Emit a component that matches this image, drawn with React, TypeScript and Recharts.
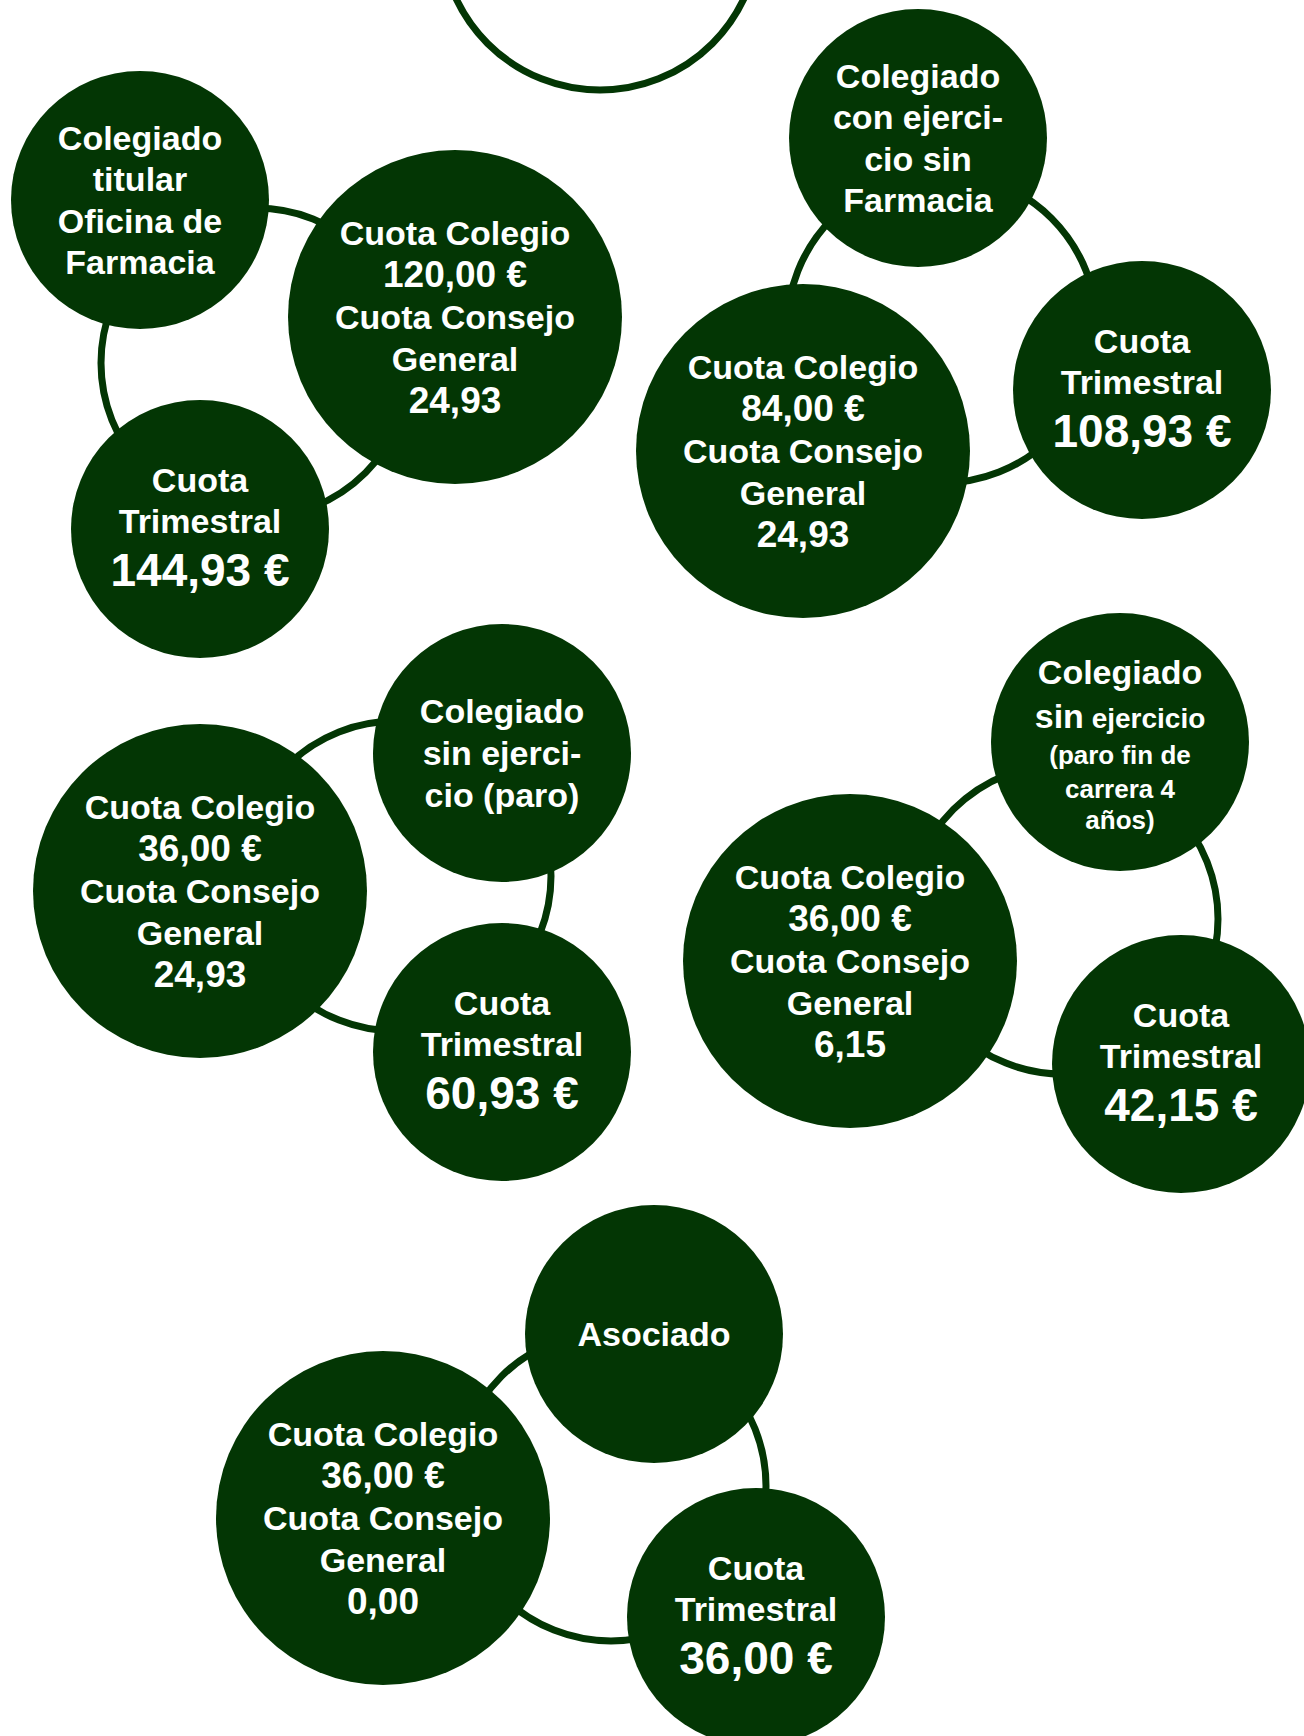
import { ScatterChart, Scatter, XAxis, YAxis } from 'recharts';

const W = 1304;
const H = 1736;
const GREEN = '#033604';
const FONT = '"Liberation Sans", Arial, Helvetica, sans-serif';

// tipo de colegiado (texto del círculo pequeño)
const tipos = [
  ['Colegiado', 'titular', 'Oficina de', 'Farmacia'],
  ['Colegiado', 'con ejerci-', 'cio sin', 'Farmacia'],
  ['Colegiado', 'sin ejerci-', 'cio (paro)'],
  ['Colegiado', 'sin ejercicio', '(paro fin de', 'carrera 4', 'años)'],
  ['Asociado'],
];
const cuotaColegio = ['120,00 €', '84,00 €', '36,00 €', '36,00 €', '36,00 €'];
const cuotaConsejo = ['24,93', '24,93', '24,93', '6,15', '0,00'];
const cuotaTrimestral = ['144,93 €', '108,93 €', '60,93 €', '42,15 €', '36,00 €'];

// centros de cada círculo (x, y)
const tipoPos = [[140, 200], [918, 138], [502, 753], [1120, 742], [654, 1334]];
const colegioPos = [[455, 317], [803, 451], [200, 891], [850, 961], [383, 1518]];
const trimestralPos = [[200, 529], [1142, 390], [502, 1052], [1181, 1064], [756, 1617]];
const anilloPos = [[256, 363], [942, 328], [396, 876], [1063, 919], [611, 1486]];
const anilloSuperior = [[600, -69]];

const toPoints = (pos: number[][]) => pos.map(([x, y]) => ({ x, y }));

const tipoData = tipos.map((lines, i) => ({ x: tipoPos[i][0], y: tipoPos[i][1], lines }));
const colegioData = cuotaColegio.map((v, i) => ({
  x: colegioPos[i][0],
  y: colegioPos[i][1],
  lines: ['Cuota Colegio', v, 'Cuota Consejo', 'General', cuotaConsejo[i]],
}));
const trimestralData = cuotaTrimestral.map((v, i) => ({
  x: trimestralPos[i][0],
  y: trimestralPos[i][1],
  lines: ['Cuota', 'Trimestral', v],
}));

const ringShape = (r: number) => (props: any) => {
  const { cx, cy } = props;
  return <circle cx={cx} cy={cy} r={r} fill="none" stroke={GREEN} strokeWidth={7} />;
};

function Bubble({ cx, cy, r, lines, offsets, sizes }: any) {
  return (
    <g>
      <circle cx={cx} cy={cy} r={r} fill={GREEN} />
      <text textAnchor="middle" fill="#fff" fontFamily={FONT} fontWeight="bold">
        {lines.map((l: string, i: number) =>
          l === 'sin ejercicio' ? (
            <tspan key={i} x={cx} y={cy + offsets[i]}>
              <tspan fontSize={34}>sin</tspan>
              <tspan fontSize={28}> ejercicio</tspan>
            </tspan>
          ) : (
            <tspan key={i} x={cx} y={cy + offsets[i]} fontSize={sizes[i]}>
              {l}
            </tspan>
          )
        )}
      </text>
    </g>
  );
}

const tipoShape = (props: any) => {
  const { cx, cy, payload } = props;
  const n = payload.lines.length;
  let offsets = [12];
  let sizes = [34];
  if (n === 3) {
    offsets = [-30, 12, 54];
    sizes = [34, 34, 34];
  } else if (n === 4) {
    offsets = [-50, -9, 33, 74];
    sizes = [34, 34, 34, 34];
  } else if (n === 5) {
    offsets = [-58, -14, 22, 56, 87];
    sizes = [34, 34, 26, 26, 26];
  }
  return <Bubble cx={cx} cy={cy} r={129} lines={payload.lines} offsets={offsets} sizes={sizes} />;
};

const colegioShape = (props: any) => {
  const { cx, cy, payload } = props;
  return (
    <Bubble
      cx={cx}
      cy={cy}
      r={167}
      lines={payload.lines}
      offsets={[-72, -30, 12, 54, 96]}
      sizes={[34, 37, 34, 34, 37]}
    />
  );
};

const trimestralShape = (props: any) => {
  const { cx, cy, payload } = props;
  return (
    <Bubble cx={cx} cy={cy} r={129} lines={payload.lines} offsets={[-37, 4, 57]} sizes={[34, 34, 46]} />
  );
};

export default function App() {
  return (
    <div style={{ position: 'absolute', top: 0, left: 0, width: W, height: H, background: '#fff' }}>
      <ScatterChart width={W} height={H} margin={{ top: 0, right: 0, bottom: 0, left: 0 }}>
        <XAxis type="number" dataKey="x" domain={[0, W]} allowDataOverflow hide />
        <YAxis type="number" dataKey="y" domain={[0, H]} allowDataOverflow reversed hide />
        <Scatter data={toPoints(anilloSuperior)} shape={ringShape(159)} isAnimationActive={false} />
        <Scatter data={toPoints(anilloPos)} shape={ringShape(155)} isAnimationActive={false} />
        <Scatter data={tipoData} shape={tipoShape} isAnimationActive={false} />
        <Scatter data={colegioData} shape={colegioShape} isAnimationActive={false} />
        <Scatter data={trimestralData} shape={trimestralShape} isAnimationActive={false} />
      </ScatterChart>
    </div>
  );
}
